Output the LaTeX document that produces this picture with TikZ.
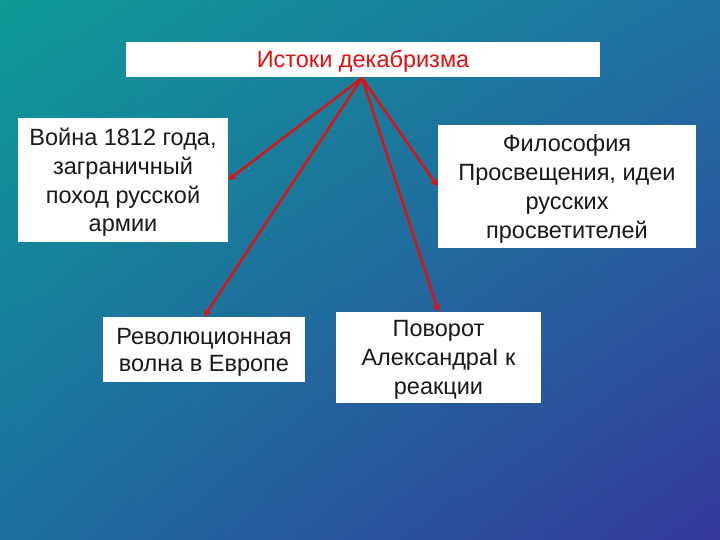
\documentclass[tikz,border=0pt]{standalone}
\usepackage{fontspec}
\setmainfont{Liberation Sans}
\usetikzlibrary{arrows.meta,shadings}
\definecolor{bgtl}{HTML}{0E9A96}
\definecolor{bgtr}{HTML}{1F72A2}
\definecolor{bgbl}{HTML}{1C6FA0}
\definecolor{bgbr}{HTML}{35389A}
\definecolor{arrred}{HTML}{E01010}
\tikzset{
  box/.style={draw=none, fill=white, inner sep=0pt, align=center,
    font=\fontsize{23.5}{28.8}\selectfont, text=black!90, text depth=-3pt},
  conn/.style={draw=arrred, line width=2.4pt, -{Stealth[length=8pt,width=8pt]}}
}
\begin{document}
\begin{tikzpicture}[x=1pt,y=-1pt]
\useasboundingbox (0,0) rectangle (720,540);
\shade[upper left=bgtl, upper right=bgtr, lower left=bgbl, lower right=bgbr] (0,0) rectangle (720,540);
\node[box, minimum width=474pt, minimum height=35pt, text height=17pt, text depth=0pt, text=arrred] (title) at (363,59.5) {Истоки декабризма};
\node[box, minimum width=210pt, minimum height=124pt] (war) at (123,180) {Война 1812 года,\\заграничный\\поход русской\\армии};
\node[box, minimum width=258pt, minimum height=123pt] (phil) at (567,186.5) {Философия\\Просвещения, идеи\\русских\\просветителей};
\node[box, minimum width=202pt, minimum height=65pt, font=\fontsize{23.5}{27}\selectfont] (rev) at (204,349.5) {Революционная\\волна в Европе};
\node[box, minimum width=205pt, minimum height=91pt] (turn) at (438.5,357.5) {Поворот\\АлександраI к\\реакции};
\coordinate (src) at (362,78);
\draw[conn] (src) -- (war.east);
\draw[conn] (src) -- (phil.west);
\draw[conn] (src) -- (rev.north);
\draw[conn] (src) -- (turn.north);
\end{tikzpicture}
\end{document}
